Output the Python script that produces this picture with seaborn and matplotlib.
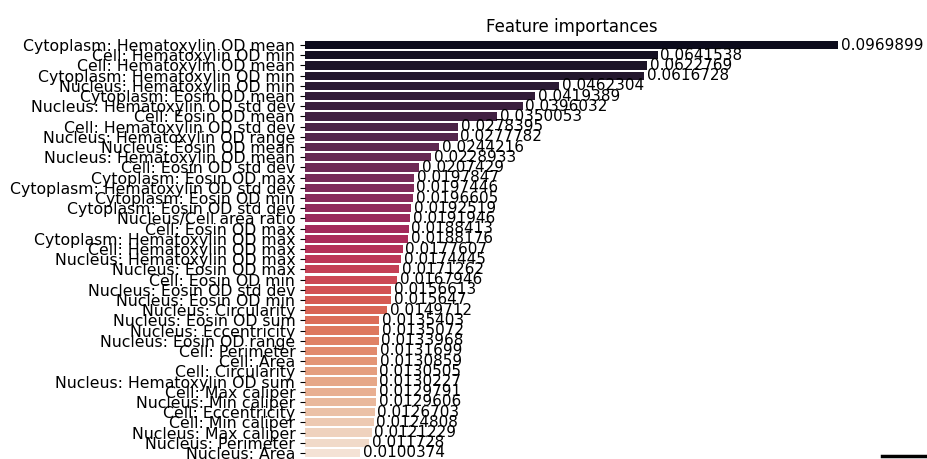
import matplotlib
matplotlib.use("Agg")
import matplotlib.pyplot as plt
import seaborn as sns
import pandas as pd
from matplotlib.lines import Line2D

features = [
    "Cytoplasm: Hematoxylin OD mean",
    "Cell: Hematoxylin OD min",
    "Cell: Hematoxylin OD mean",
    "Cytoplasm: Hematoxylin OD min",
    "Nucleus: Hematoxylin OD min",
    "Cytoplasm: Eosin OD mean",
    "Nucleus: Hematoxylin OD std dev",
    "Cell: Eosin OD mean",
    "Cell: Hematoxylin OD std dev",
    "Nucleus: Hematoxylin OD range",
    "Nucleus: Eosin OD mean",
    "Nucleus: Hematoxylin OD mean",
    "Cell: Eosin OD std dev",
    "Cytoplasm: Eosin OD max",
    "Cytoplasm: Hematoxylin OD std dev",
    "Cytoplasm: Eosin OD min",
    "Cytoplasm: Eosin OD std dev",
    "Nucleus/Cell area ratio",
    "Cell: Eosin OD max",
    "Cytoplasm: Hematoxylin OD max",
    "Cell: Hematoxylin OD max",
    "Nucleus: Hematoxylin OD max",
    "Nucleus: Eosin OD max",
    "Cell: Eosin OD min",
    "Nucleus: Eosin OD std dev",
    "Nucleus: Eosin OD min",
    "Nucleus: Circularity",
    "Nucleus: Eosin OD sum",
    "Nucleus: Eccentricity",
    "Nucleus: Eosin OD range",
    "Cell: Perimeter",
    "Cell: Area",
    "Cell: Circularity",
    "Nucleus: Hematoxylin OD sum",
    "Cell: Max caliper",
    "Nucleus: Min caliper",
    "Cell: Eccentricity",
    "Cell: Min caliper",
    "Nucleus: Max caliper",
    "Nucleus: Perimeter",
    "Nucleus: Area",
]

importances = [
    0.0969899, 0.0641538, 0.0622769, 0.0616728, 0.0462304, 0.0419389,
    0.0396032, 0.0350053, 0.0278395, 0.0277782, 0.0244216, 0.0228933,
    0.0207429, 0.0197847, 0.0197446, 0.0196605, 0.0192519, 0.0191946,
    0.0188413, 0.0188176, 0.0177607, 0.0174445, 0.0171262, 0.0167946,
    0.0156613, 0.015647, 0.0149712, 0.0135403, 0.0135072, 0.0133968,
    0.0131699, 0.0130859, 0.0130505, 0.0130227, 0.0129791, 0.0129606,
    0.0126703, 0.0124808, 0.0121229, 0.011728, 0.0100374,
]

df = pd.DataFrame({"feature": features, "importance": importances})

fig = plt.figure(figsize=(9.27, 4.59), dpi=100)
ax = fig.add_axes([305 / 927, 1 - 458 / 459, (838 - 305) / 927, (458 - 40) / 459])

sns.barplot(data=df, x="importance", y="feature", hue="feature",
            palette="rocket", legend=False, orient="h", ax=ax)

for c in ax.containers:
    ax.bar_label(c, fmt="%g", padding=2, fontsize=11)

ax.set_xlim(0, max(importances))
ax.set_xticks([])
ax.set_xlabel("")
ax.set_ylabel("")
ax.tick_params(axis="y", labelsize=11.3)
ax.set_title("Feature importances", fontsize=12)
for s in ax.spines.values():
    s.set_visible(False)

fig.add_artist(Line2D([882 / 927, 925 / 927], [1 - 456 / 459, 1 - 456 / 459],
                      transform=fig.transFigure, color="black", linewidth=2.5))

fig.savefig("out.png", dpi=100)
